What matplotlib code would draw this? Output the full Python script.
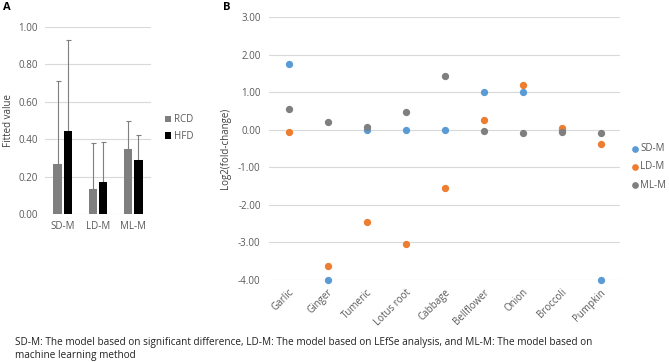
import numpy as np
import matplotlib.pyplot as plt

plt.rcParams['font.family'] = ['Open Sans', 'DejaVu Sans']

# panel A data
models = ['SD-M', 'LD-M', 'ML-M']
rcd = [0.265, 0.135, 0.345]
hfd = [0.445, 0.17, 0.29]
rcd_err = [0.445, 0.245, 0.155]
hfd_err = [0.485, 0.215, 0.13]

# panel B data
foods = ['Garlic', 'Ginger', 'Tumeric', 'Lotus root', 'Cabbage', 'Bellflower',
         'Onion', 'Broccoli', 'Pumpkin']
sd_m = [1.74, -4.0, 0.0, 0.0, 0.0, 1.0, 1.0, 0.0, -4.0]
ld_m = [-0.05, -3.62, -2.45, -3.05, -1.55, 0.25, 1.19, 0.04, -0.37]
ml_m = [0.55, 0.20, 0.07, 0.47, 1.43, -0.03, -0.10, -0.06, -0.10]

grid_c = '#D9D9D9'
txt_c = '#595959'

fig = plt.figure(figsize=(6.69, 3.62), dpi=100)

# ---- A ----
axA = fig.add_axes([45 / 669, 1 - 214 / 362, 106 / 669, 187 / 362])
x = np.arange(len(models))
w = 0.24
off = 0.145
axA.bar(x - off, rcd, w, color='#7F7F7F', zorder=3, label='RCD')
axA.bar(x + off, hfd, w, color='black', zorder=3, label='HFD')
axA.errorbar(x - off, rcd, yerr=[np.zeros(3), rcd_err], fmt='none',
             ecolor='#7F7F7F', elinewidth=0.8, capsize=1.8, capthick=0.8, zorder=2)
axA.errorbar(x + off, hfd, yerr=[np.zeros(3), hfd_err], fmt='none',
             ecolor='#7F7F7F', elinewidth=0.8, capsize=1.8, capthick=0.8, zorder=2)
axA.set_ylim(0, 1.0)
axA.set_xlim(-0.5, 2.5)
axA.set_yticks(np.arange(0, 1.01, 0.2))
axA.set_yticklabels(['{:.2f}'.format(v) for v in np.arange(0, 1.01, 0.2)])
axA.set_xticks(x)
axA.set_xticklabels(models)
axA.yaxis.grid(True, color=grid_c, linewidth=0.8, zorder=0)
for s in axA.spines.values():
    s.set_visible(False)
axA.tick_params(length=0, labelsize=7, colors=txt_c, pad=5)
axA.set_ylabel('Fitted value', fontsize=7, color='#404040', labelpad=3)
axA.legend(loc='center left', bbox_to_anchor=(1.13, 0.46), frameon=False,
           fontsize=7, handlelength=0.6, handleheight=0.6, handletextpad=0.3,
           labelcolor=txt_c, labelspacing=0.6, borderaxespad=0, borderpad=0)
fig.text(3 / 669, 1 - 8 / 362, 'A', fontsize=8, fontweight='bold', va='center')

# ---- B ----
axB = fig.add_axes([269 / 669, 1 - 280 / 362, 351 / 669, 263 / 362])
xb = np.arange(len(foods))
axB.scatter(xb, sd_m, s=18, color='#5B9BD5', zorder=3, label='SD-M', clip_on=False)
axB.scatter(xb, ld_m, s=18, color='#ED7D31', zorder=3, label='LD-M', clip_on=False)
axB.scatter(xb, ml_m, s=18, color='#7F7F7F', zorder=3, label='ML-M', clip_on=False)
axB.set_ylim(-4, 3)
axB.set_xlim(-0.5, 8.5)
yt = np.arange(-4, 3.01, 1)
axB.set_yticks(yt)
axB.set_yticklabels(['{:.2f}'.format(v) for v in yt])
axB.set_xticks(xb)
axB.set_xticklabels(foods, rotation=45, ha='right', rotation_mode='anchor')
axB.yaxis.grid(True, color=grid_c, linewidth=0.8, zorder=0)
for s in axB.spines.values():
    s.set_visible(False)
axB.tick_params(axis='y', length=0, labelsize=7, colors=txt_c, pad=6)
axB.tick_params(axis='x', length=0, labelsize=7, colors=txt_c, pad=5)
axB.set_ylabel('Log2(fold-change)', fontsize=7, color='#404040', labelpad=5)
axB.legend(loc='center left', bbox_to_anchor=(1.035, 0.43), frameon=False,
           fontsize=7, handlelength=0.5, handletextpad=0.3, markerscale=0.9,
           labelcolor=txt_c, borderaxespad=0, borderpad=0, labelspacing=0.75)
fig.text(223 / 669, 1 - 8 / 362, 'B', fontsize=8, fontweight='bold', va='center')

fig.text(15 / 669, 1 - 349 / 362,
         'SD-M: The model based on significant difference, LD-M: The model based on LEfSe analysis, and ML-M: The model based on\nmachine learning method',
         fontsize=7.2, color='#222222', va='center', linespacing=1.15)

fig.savefig('out.png', dpi=100)
